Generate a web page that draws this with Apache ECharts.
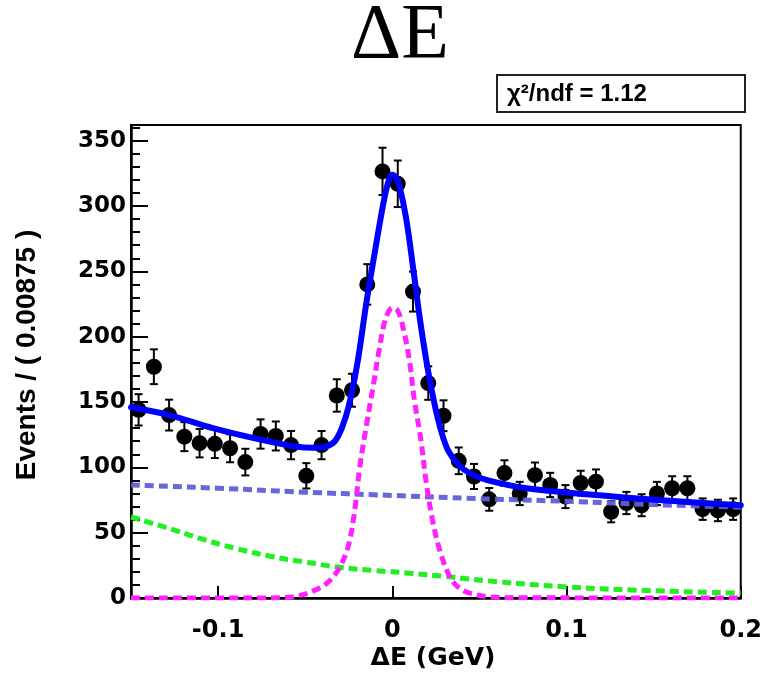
<!DOCTYPE html>
<html>
<head>
<meta charset="utf-8">
<script src="https://cdn.jsdelivr.net/npm/echarts@6/dist/echarts.min.js"></script>
<style>
  html, body { margin: 0; padding: 0; background: #fff; }
  #chart { width: 765px; height: 674px; }
</style>
</head>
<body>
<div id="chart"></div>
<script>
// ---- data ----
const binCenters = [-0.145625, -0.136875, -0.128125, -0.119375, -0.110625, -0.101875, -0.093125, -0.084375,
  -0.075625, -0.066875, -0.058125, -0.049375, -0.040625, -0.031875, -0.023125, -0.014375, -0.005625,
  0.003125, 0.011875, 0.020625, 0.029375, 0.038125, 0.046875, 0.055625, 0.064375, 0.073125, 0.081875,
  0.090625, 0.099375, 0.108125, 0.116875, 0.125625, 0.134375, 0.143125, 0.151875, 0.160625, 0.169375,
  0.178125, 0.186875, 0.195625];
const events = [144, 177, 140, 123.5, 118.5, 118, 114.6, 104, 125.5, 124, 117, 93.5, 117, 155, 159,
  240, 326.5, 317, 234.5, 164.5, 139.5, 105, 93, 75.5, 95.6, 80, 94, 86.5, 77.6, 88, 89,
  66, 72.7, 71, 80, 84, 84, 68, 67, 68];
const eventErrors = [12, 13.3, 11.8, 11.1, 10.9, 10.9, 10.7, 10.2, 11.2, 11.1, 10.8, 9.7, 10.8, 12.4, 12.6,
  15.5, 18.1, 17.8, 15.3, 12.8, 11.8, 10.2, 9.6, 8.7, 9.8, 8.9, 9.7, 9.3, 8.8, 9.4, 9.4,
  8.1, 8.5, 8.4, 8.9, 9.2, 9.2, 8.2, 8.2, 8.2];

const totalX = [-0.15, -0.128, -0.103, -0.075, -0.056, -0.045, -0.038, -0.033, -0.029, -0.025, -0.020,
  -0.015, -0.010, -0.005, -0.002, 0.000, 0.002, 0.004, 0.008, 0.012, 0.016, 0.020, 0.024, 0.028,
  0.032, 0.038, 0.045, 0.055, 0.077, 0.115, 0.153, 0.2];
const totalY = [146, 140, 130, 121, 116, 115, 116, 120, 130, 147, 180,
  225, 265, 303, 320, 324, 322, 316, 290, 252, 212, 178, 150, 128,
  113, 102, 95, 90, 84, 79, 75, 71];

const combBkgX = [-0.15, -0.1, -0.05, 0.0, 0.05, 0.1, 0.15, 0.2];
const combBkgY = [86.5, 84, 81, 78.5, 76, 74, 71.5, 69.5];

const peakBkgX = [-0.15, -0.13, -0.11, -0.09, -0.07, -0.05, -0.03, -0.01, 0.01, 0.03, 0.06, 0.1, 0.14, 0.2];
const peakBkgY = [62, 54, 45.5, 38, 32, 27.5, 23.5, 21, 19, 16.5, 12.5, 8.5, 6, 3.8];

const signalX = [-0.15, -0.08, -0.06, -0.053, -0.046, -0.037, -0.030, -0.025, -0.0215, -0.0187, -0.015,
  -0.011, -0.0073, -0.004, 0.0, 0.003, 0.006, 0.0098, 0.0126, 0.0164, 0.0193, 0.023, 0.0278, 0.0335,
  0.039, 0.045, 0.055, 0.07, 0.2];
const signalY = [0, 0, 0.4, 2, 5, 12, 24, 41, 68, 100, 131,
  162, 192, 213, 222, 220, 208, 182, 152, 121, 90, 60, 34, 15,
  7, 3.5, 1, 0.2, 0];

const xTicks = [-0.1, 0, 0.1, 0.2];
const yTicks = [0, 50, 100, 150, 200, 250, 300, 350];

// ---- build chart ----
const zip = (xs, ys) => xs.map((x, i) => [x, ys[i]]);
const chart = echarts.init(document.getElementById('chart'), null, { renderer: 'canvas' });

const dashStyle = (color) => ({ color: color, width: 5, type: [9, 5] });

const option = {
  backgroundColor: '#ffffff',
  animation: false,
  grid: { left: 131, right: 20, top: 125, bottom: 76, show: true, borderColor: '#000', borderWidth: 2, backgroundColor: 'transparent' },
  xAxis: {
    type: 'value', min: -0.15, max: 0.2,
    axisLine: { show: true, onZero: false, lineStyle: { color: '#000', width: 2.5 } },
    axisTick: { show: true, inside: true, length: 12, lineStyle: { color: '#000', width: 2 }, customValues: xTicks },
    axisLabel: { show: true, customValues: xTicks, margin: 21, color: '#000',
      fontFamily: 'DejaVu Sans', fontWeight: 'bold', fontSize: 24,
      formatter: (v) => (Math.abs(v) < 1e-9 ? '0' : String(Math.round(v * 10) / 10)) },
    splitLine: { show: false }
  },
  yAxis: {
    type: 'value', min: 0, max: 362, interval: 50,
    axisLine: { show: true, onZero: false, lineStyle: { color: '#000', width: 2.5 } },
    axisTick: { show: true, inside: true, length: 17, lineStyle: { color: '#000', width: 2 }, customValues: yTicks },
    minorTick: { show: true, splitNumber: 5, length: 9, lineStyle: { color: '#000', width: 2 } },
    axisLabel: { show: true, customValues: yTicks, margin: 5, color: '#000',
      fontFamily: 'DejaVu Sans', fontWeight: 'bold', fontSize: 23 },
    splitLine: { show: false }
  },
  series: [
    {
      type: 'custom', name: 'errors', z: 2,
      data: binCenters.map((x, i) => [x, events[i], eventErrors[i]]),
      renderItem: function (params, api) {
        const x = api.value(0), y = api.value(1), e = api.value(2);
        const top = api.coord([x, y + e]);
        const bot = api.coord([x, y - e]);
        const hw = 4;
        const st = { stroke: '#000', lineWidth: 2 };
        return {
          type: 'group',
          children: [
            { type: 'line', shape: { x1: top[0], y1: top[1], x2: bot[0], y2: bot[1] }, style: st },
            { type: 'line', shape: { x1: top[0] - hw, y1: top[1], x2: top[0] + hw, y2: top[1] }, style: st },
            { type: 'line', shape: { x1: bot[0] - hw, y1: bot[1], x2: bot[0] + hw, y2: bot[1] }, style: st }
          ]
        };
      }
    },
    {
      type: 'scatter', name: 'data', z: 2,
      data: zip(binCenters, events),
      symbol: 'circle', symbolSize: 16,
      itemStyle: { color: '#000', opacity: 1 }
    },
    {
      type: 'line', name: 'comb', z: 3, data: zip(combBkgX, combBkgY),
      showSymbol: false, smooth: true,
      lineStyle: dashStyle('rgba(95,95,215,0.95)')
    },
    {
      type: 'line', name: 'peaking', z: 3, data: zip(peakBkgX, peakBkgY),
      showSymbol: false, smooth: true,
      lineStyle: dashStyle('#22ee22')
    },
    {
      type: 'line', name: 'signal', z: 4, data: zip(signalX, signalY),
      showSymbol: false, smooth: 0.35,
      lineStyle: dashStyle('#ff22ff')
    },
    {
      type: 'line', name: 'total', z: 5, data: zip(totalX, totalY),
      showSymbol: false, smooth: 0.35,
      lineStyle: { color: '#0000ff', width: 6, type: 'solid', cap: 'round', join: 'round' }
    }
  ],
  graphic: [
    { type: 'text', x: 400, y: 37, style: { text: 'ΔE', fontFamily: 'Liberation Serif', fontSize: 78, fill: '#000', align: 'center', verticalAlign: 'middle' } },
    { type: 'rect', shape: { x: 497, y: 75, width: 248, height: 37 }, style: { fill: '#fff', stroke: '#222', lineWidth: 2 } },
    { type: 'text', x: 507, y: 94, style: { text: 'χ²/ndf = 1.12', fontFamily: 'Arial', fontWeight: 'bold', fontSize: 24, fill: '#000', align: 'left', verticalAlign: 'middle' } },
    { type: 'text', x: 27, y: 355, rotation: Math.PI / 2, style: { text: 'Events / ( 0.00875 )', fontFamily: 'Arial', fontWeight: 'bold', fontSize: 28, fill: '#000', align: 'center', verticalAlign: 'middle' } },
    { type: 'text', x: 433, y: 658, style: { text: 'ΔE (GeV)', fontFamily: 'DejaVu Sans', fontWeight: 'bold', fontSize: 25, fill: '#000', align: 'center', verticalAlign: 'middle' } }
  ]
};
chart.setOption(option);
</script>
</body>
</html>
